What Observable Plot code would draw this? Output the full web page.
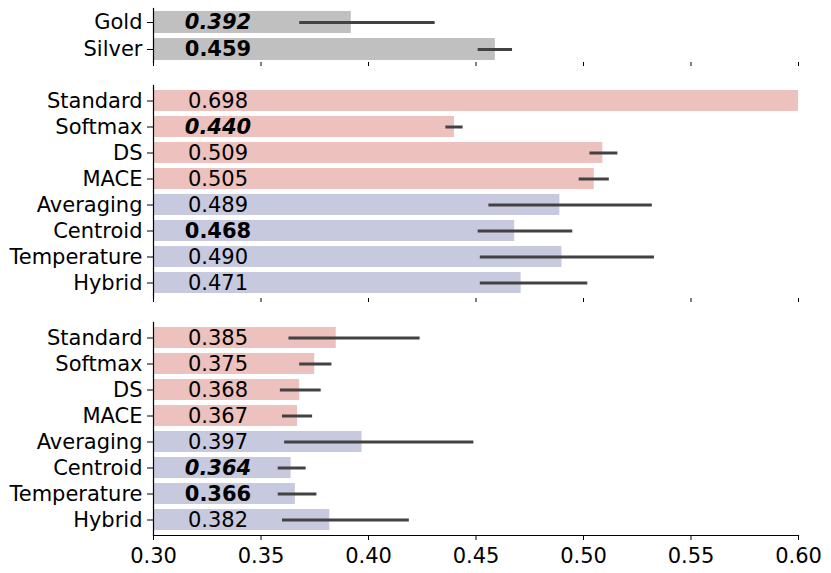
<!DOCTYPE html>
<html>
<head>
<meta charset="utf-8">
<script src="https://cdn.jsdelivr.net/npm/d3@7"></script>
<script src="https://cdn.jsdelivr.net/npm/@observablehq/plot@0.6"></script>
<style>
  body { margin: 0; background: #fff; }
  #chart { position: relative; width: 831px; height: 573px; }
  #chart svg { position: absolute; left: 0; }
</style>
</head>
<body>
<div id="chart"></div>
<script>
// ---- data ----
const refCats = ["Gold", "Silver"];
const refVals = [0.392, 0.459];
const refLo = [0.368, 0.451];
const refHi = [0.431, 0.467];
const refStyle = ["bi", "b"];

const methods = ["Standard", "Softmax", "DS", "MACE", "Averaging", "Centroid", "Temperature", "Hybrid"];
const groups = ["base", "base", "base", "base", "ours", "ours", "ours", "ours"];

const midVals = [0.698, 0.440, 0.509, 0.505, 0.489, 0.468, 0.490, 0.471];
const midLo = [null, 0.436, 0.503, 0.498, 0.456, 0.451, 0.452, 0.452];
const midHi = [null, 0.444, 0.516, 0.512, 0.532, 0.495, 0.533, 0.502];
const midStyle = ["", "bi", "", "", "", "b", "", ""];

const botVals = [0.385, 0.375, 0.368, 0.367, 0.397, 0.364, 0.366, 0.382];
const botLo = [0.363, 0.368, 0.359, 0.360, 0.361, 0.358, 0.358, 0.360];
const botHi = [0.424, 0.383, 0.378, 0.374, 0.449, 0.371, 0.376, 0.419];
const botStyle = ["", "", "", "", "", "bi", "b", ""];

const xDomain = [0.30, 0.60];
const xTicks = [0.30, 0.35, 0.40, 0.45, 0.50, 0.55, 0.60];
const labelX = 0.33;

const colors = { ref: "#c0c0c0", base: "#edc1bd", ours: "#c7c9de" };

// ---- build rows ----
const refRows = refCats.map((n, i) => ({ name: n, v: refVals[i], lo: refLo[i], hi: refHi[i], st: refStyle[i], g: "ref" }));
const midRows = methods.map((n, i) => ({ name: n, v: midVals[i], lo: midLo[i], hi: midHi[i], st: midStyle[i], g: groups[i] }));
const botRows = methods.map((n, i) => ({ name: n, v: botVals[i], lo: botLo[i], hi: botHi[i], st: botStyle[i], g: groups[i] }));

const FS = 21;

function panel(rows, { top, height, marginTop, marginBottom, bottomAxis, outer }) {
  const fmt = d3.format(".3f");
  const textMark = (filt, weight, style) => Plot.text(rows.filter(filt), {
    x: () => labelX, y: "name", text: d => fmt(d.v),
    fontSize: FS, fontWeight: weight, fontStyle: style, fill: "#000", textAnchor: "middle"
  });
  const svg = Plot.plot({
    width: 831,
    height,
    marginLeft: 153,
    marginRight: 33,
    marginTop,
    marginBottom,
    style: { fontFamily: "'DejaVu Sans', sans-serif", fontSize: FS + "px", color: "#000", background: "#fff", overflow: "visible" },
    x: { domain: xDomain },
    y: { domain: rows.map(d => d.name), paddingInner: 0.2, paddingOuter: outer },
    marks: [
      Plot.barX(rows, { x1: () => 0, x2: "v", y: "name", fill: d => colors[d.g], clip: true }),
      Plot.ruleY(rows.filter(d => d.lo != null), { y: "name", x1: "lo", x2: "hi", stroke: "#424242", strokeWidth: 3, clip: true }),
      textMark(d => d.st === "", "normal", "normal"),
      textMark(d => d.st === "b", "bold", "normal"),
      textMark(d => d.st === "bi", "bold", "italic"),
      Plot.axisY({ tickSize: 6, tickPadding: 5, label: null, fontSize: FS }),
      Plot.frame({ anchor: "left", stroke: "#000", strokeWidth: 1.2 }),
      bottomAxis
        ? Plot.axisX({ ticks: xTicks, tickFormat: d3.format(".2f"), tickSize: 5, tickPadding: 8, label: null, fontSize: FS })
        : Plot.axisX({ ticks: xTicks, tickFormat: () => "", tickSize: 4, label: null }),
      bottomAxis ? Plot.frame({ anchor: "bottom", stroke: "#000", strokeWidth: 1.2 }) : null
    ]
  });
  svg.style.top = top + "px";
  return svg;
}

const chart = document.getElementById("chart");
chart.appendChild(panel(refRows, { top: 0, height: 70, marginTop: 8, marginBottom: 8, bottomAxis: false, outer: 0.1 }));
chart.appendChild(panel(midRows, { top: 70, height: 240, marginTop: 15, marginBottom: 12, bottomAxis: false, outer: 0.05 }));
chart.appendChild(panel(botRows, { top: 310, height: 263, marginTop: 12, marginBottom: 38, bottomAxis: true, outer: 0.05 }));
</script>
</body>
</html>
